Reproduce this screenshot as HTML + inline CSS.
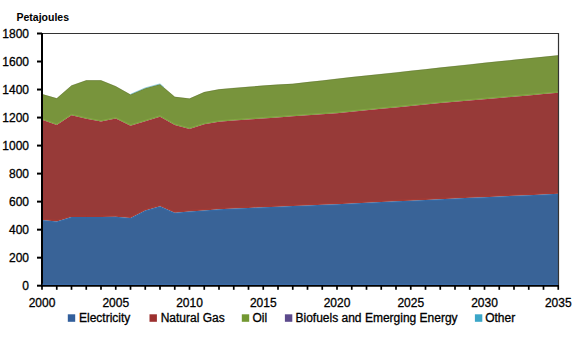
<!DOCTYPE html>
<html><head><meta charset="utf-8"><style>
html,body{margin:0;padding:0;background:#fff;}
body{width:580px;height:337px;overflow:hidden;}
svg{display:block;}
.t{font-family:"Liberation Sans", sans-serif;font-size:12px;fill:#000;stroke:#000;stroke-width:0.3px;}
.b{font-family:"Liberation Sans", sans-serif;font-size:10.5px;font-weight:bold;fill:#000;}
</style></head><body>
<svg width="580" height="337" viewBox="0 0 580 337">
<polygon points="42.00,94.10 56.75,98.30 71.50,85.40 86.25,80.30 101.00,80.30 115.75,86.20 130.50,94.60 145.25,88.20 160.00,84.20 174.75,96.80 189.50,98.50 204.25,92.10 219.00,89.30 233.75,87.90 248.50,86.80 263.25,85.60 278.00,84.60 292.75,83.80 307.50,82.10 322.25,80.50 337.00,78.70 351.75,77.12 366.50,75.54 381.25,73.96 396.00,72.38 410.75,70.80 425.50,69.20 440.25,67.60 455.00,66.00 469.75,64.40 484.50,62.80 499.25,61.30 514.00,59.80 528.75,58.30 543.50,56.80 558.25,55.30 558.25,92.80 543.50,94.09 528.75,95.38 514.00,96.66 499.25,97.95 484.50,99.24 469.75,100.52 455.00,101.81 440.25,103.10 425.50,104.54 410.75,105.99 396.00,107.43 381.25,108.87 366.50,110.31 351.75,111.76 337.00,113.20 322.25,114.25 307.50,115.30 292.75,116.35 278.00,117.40 263.25,118.45 248.50,119.50 233.75,120.60 219.00,121.80 204.25,124.30 189.50,129.00 174.75,125.00 160.00,116.70 145.25,121.30 130.50,125.70 115.75,118.60 101.00,121.60 86.25,118.80 71.50,115.30 56.75,125.00 42.00,119.80" fill="#78943c"/>
<polygon points="42.00,119.80 56.75,125.00 71.50,115.30 86.25,118.80 101.00,121.60 115.75,118.60 130.50,125.70 145.25,121.30 160.00,116.70 174.75,125.00 189.50,129.00 204.25,124.30 219.00,121.80 233.75,120.60 248.50,119.50 263.25,118.45 278.00,117.40 292.75,116.35 307.50,115.30 322.25,114.25 337.00,113.20 351.75,111.76 366.50,110.31 381.25,108.87 396.00,107.43 410.75,105.99 425.50,104.54 440.25,103.10 455.00,101.81 469.75,100.52 484.50,99.24 499.25,97.95 514.00,96.66 528.75,95.38 543.50,94.09 558.25,92.80 558.25,193.80 543.50,194.48 528.75,195.15 514.00,195.82 499.25,196.50 484.50,197.18 469.75,197.85 455.00,198.52 440.25,199.20 425.50,199.91 410.75,200.63 396.00,201.34 381.25,202.06 366.50,202.77 351.75,203.49 337.00,204.20 322.25,204.82 307.50,205.43 292.75,206.05 278.00,206.67 263.25,207.28 248.50,207.90 233.75,208.60 219.00,209.30 204.25,210.40 189.50,211.40 174.75,212.80 160.00,206.30 145.25,210.40 130.50,218.00 115.75,216.70 101.00,216.90 86.25,216.90 71.50,216.90 56.75,221.40 42.00,220.10" fill="#973a38"/>
<polygon points="42.00,220.10 56.75,221.40 71.50,216.90 86.25,216.90 101.00,216.90 115.75,216.70 130.50,218.00 145.25,210.40 160.00,206.30 174.75,212.80 189.50,211.40 204.25,210.40 219.00,209.30 233.75,208.60 248.50,207.90 263.25,207.28 278.00,206.67 292.75,206.05 307.50,205.43 322.25,204.82 337.00,204.20 351.75,203.49 366.50,202.77 381.25,202.06 396.00,201.34 410.75,200.63 425.50,199.91 440.25,199.20 455.00,198.52 469.75,197.85 484.50,197.18 499.25,196.50 514.00,195.82 528.75,195.15 543.50,194.48 558.25,193.80 558.25,285.70 42.00,285.70" fill="#396397"/>
<polyline points="42.00,118.80 56.75,124.00 71.50,114.30 86.25,117.80 101.00,120.60 115.75,117.60 130.50,124.70 145.25,120.30 160.00,115.70 174.75,124.00 189.50,128.00 204.25,123.30 219.00,120.80 233.75,119.60 248.50,118.50 263.25,117.45 278.00,116.40 292.75,115.35 307.50,114.30 322.25,113.25 337.00,112.20 351.75,110.76 366.50,109.31 381.25,107.87 396.00,106.43 410.75,104.99 425.50,103.54 440.25,102.10 455.00,100.81 469.75,99.52 484.50,98.24 499.25,96.95 514.00,95.66 528.75,94.38 543.50,93.09 558.25,91.80" fill="none" stroke="#88b845" stroke-width="1" opacity="0.55"/>
<polyline points="42.00,120.80 56.75,126.00 71.50,116.30 86.25,119.80 101.00,122.60 115.75,119.60 130.50,126.70 145.25,122.30 160.00,117.70 174.75,126.00 189.50,130.00 204.25,125.30 219.00,122.80 233.75,121.60 248.50,120.50 263.25,119.45 278.00,118.40 292.75,117.35 307.50,116.30 322.25,115.25 337.00,114.20 351.75,112.76 366.50,111.31 381.25,109.87 396.00,108.43 410.75,106.99 425.50,105.54 440.25,104.10 455.00,102.81 469.75,101.52 484.50,100.24 499.25,98.95 514.00,97.66 528.75,96.38 543.50,95.09 558.25,93.80" fill="none" stroke="#b02a3a" stroke-width="1" opacity="0.45"/>
<polyline points="42.00,219.10 56.75,220.40 71.50,215.90 86.25,215.90 101.00,215.90 115.75,215.70 130.50,217.00 145.25,209.40 160.00,205.30 174.75,211.80 189.50,210.40 204.25,209.40 219.00,208.30 233.75,207.60 248.50,206.90 263.25,206.28 278.00,205.67 292.75,205.05 307.50,204.43 322.25,203.82 337.00,203.20 351.75,202.49 366.50,201.77 381.25,201.06 396.00,200.34 410.75,199.63 425.50,198.91 440.25,198.20 455.00,197.52 469.75,196.85 484.50,196.18 499.25,195.50 514.00,194.82 528.75,194.15 543.50,193.48 558.25,192.80" fill="none" stroke="#bb3a2e" stroke-width="1" opacity="0.5"/>
<polyline points="42.00,221.10 56.75,222.40 71.50,217.90 86.25,217.90 101.00,217.90 115.75,217.70 130.50,219.00 145.25,211.40 160.00,207.30 174.75,213.80 189.50,212.40 204.25,211.40 219.00,210.30 233.75,209.60 248.50,208.90 263.25,208.28 278.00,207.67 292.75,207.05 307.50,206.43 322.25,205.82 337.00,205.20 351.75,204.49 366.50,203.77 381.25,203.06 396.00,202.34 410.75,201.63 425.50,200.91 440.25,200.20 455.00,199.52 469.75,198.85 484.50,198.18 499.25,197.50 514.00,196.82 528.75,196.15 543.50,195.48 558.25,194.80" fill="none" stroke="#2f72b8" stroke-width="1" opacity="0.5"/>
<polyline points="42.00,94.40 56.75,98.60 71.50,85.70 86.25,80.60 101.00,80.60 115.75,86.50 130.50,94.90 145.25,88.50 160.00,84.50 174.75,97.10 189.50,98.80 204.25,92.40 219.00,89.60 233.75,88.20 248.50,87.10 263.25,85.90 278.00,84.90 292.75,84.10 307.50,82.40 322.25,80.80 337.00,79.00 351.75,77.42 366.50,75.84 381.25,74.26 396.00,72.68 410.75,71.10 425.50,69.50 440.25,67.90 455.00,66.30 469.75,64.70 484.50,63.10 499.25,61.60 514.00,60.10 528.75,58.60 543.50,57.10 558.25,55.60" fill="none" stroke="#4f5a30" stroke-width="0.8" opacity="0.35"/>
<polyline points="130.50,94.30 145.25,87.90 160.00,83.90 164.00,87.32" fill="none" stroke="#4bacc6" stroke-width="0.8" opacity="0.7"/>
<line x1="41" y1="33.5" x2="559" y2="33.5" stroke="#333" stroke-width="1.2"/>
<line x1="558.5" y1="33" x2="558.5" y2="286" stroke="#333" stroke-width="1.2"/>
<line x1="42" y1="33" x2="42" y2="287" stroke="#000" stroke-width="2"/>
<line x1="42" y1="284.2" x2="558" y2="284.2" stroke="#3f78c0" stroke-width="1" opacity="0.5"/>
<line x1="41" y1="285.8" x2="559" y2="285.8" stroke="#000" stroke-width="1.8"/>
<line x1="37" y1="285.70" x2="42" y2="285.70" stroke="#000" stroke-width="2"/>
<text x="29" y="290.20" text-anchor="end" class="t">0</text>
<line x1="37" y1="257.68" x2="42" y2="257.68" stroke="#000" stroke-width="2"/>
<text x="29" y="262.18" text-anchor="end" class="t">200</text>
<line x1="37" y1="229.66" x2="42" y2="229.66" stroke="#000" stroke-width="2"/>
<text x="29" y="234.16" text-anchor="end" class="t">400</text>
<line x1="37" y1="201.63" x2="42" y2="201.63" stroke="#000" stroke-width="2"/>
<text x="29" y="206.13" text-anchor="end" class="t">600</text>
<line x1="37" y1="173.61" x2="42" y2="173.61" stroke="#000" stroke-width="2"/>
<text x="29" y="178.11" text-anchor="end" class="t">800</text>
<line x1="37" y1="145.59" x2="42" y2="145.59" stroke="#000" stroke-width="2"/>
<text x="29" y="150.09" text-anchor="end" class="t">1000</text>
<line x1="37" y1="117.57" x2="42" y2="117.57" stroke="#000" stroke-width="2"/>
<text x="29" y="122.07" text-anchor="end" class="t">1200</text>
<line x1="37" y1="89.54" x2="42" y2="89.54" stroke="#000" stroke-width="2"/>
<text x="29" y="94.04" text-anchor="end" class="t">1400</text>
<line x1="37" y1="61.52" x2="42" y2="61.52" stroke="#000" stroke-width="2"/>
<text x="29" y="66.02" text-anchor="end" class="t">1600</text>
<line x1="37" y1="33.50" x2="42" y2="33.50" stroke="#000" stroke-width="2"/>
<text x="29" y="38.00" text-anchor="end" class="t">1800</text>
<line x1="42.00" y1="286" x2="42.00" y2="289.8" stroke="#000" stroke-width="1.7"/>
<line x1="56.75" y1="286" x2="56.75" y2="289.8" stroke="#000" stroke-width="1.7"/>
<line x1="71.50" y1="286" x2="71.50" y2="289.8" stroke="#000" stroke-width="1.7"/>
<line x1="86.25" y1="286" x2="86.25" y2="289.8" stroke="#000" stroke-width="1.7"/>
<line x1="101.00" y1="286" x2="101.00" y2="289.8" stroke="#000" stroke-width="1.7"/>
<line x1="115.75" y1="286" x2="115.75" y2="289.8" stroke="#000" stroke-width="1.7"/>
<line x1="130.50" y1="286" x2="130.50" y2="289.8" stroke="#000" stroke-width="1.7"/>
<line x1="145.25" y1="286" x2="145.25" y2="289.8" stroke="#000" stroke-width="1.7"/>
<line x1="160.00" y1="286" x2="160.00" y2="289.8" stroke="#000" stroke-width="1.7"/>
<line x1="174.75" y1="286" x2="174.75" y2="289.8" stroke="#000" stroke-width="1.7"/>
<line x1="189.50" y1="286" x2="189.50" y2="289.8" stroke="#000" stroke-width="1.7"/>
<line x1="204.25" y1="286" x2="204.25" y2="289.8" stroke="#000" stroke-width="1.7"/>
<line x1="219.00" y1="286" x2="219.00" y2="289.8" stroke="#000" stroke-width="1.7"/>
<line x1="233.75" y1="286" x2="233.75" y2="289.8" stroke="#000" stroke-width="1.7"/>
<line x1="248.50" y1="286" x2="248.50" y2="289.8" stroke="#000" stroke-width="1.7"/>
<line x1="263.25" y1="286" x2="263.25" y2="289.8" stroke="#000" stroke-width="1.7"/>
<line x1="278.00" y1="286" x2="278.00" y2="289.8" stroke="#000" stroke-width="1.7"/>
<line x1="292.75" y1="286" x2="292.75" y2="289.8" stroke="#000" stroke-width="1.7"/>
<line x1="307.50" y1="286" x2="307.50" y2="289.8" stroke="#000" stroke-width="1.7"/>
<line x1="322.25" y1="286" x2="322.25" y2="289.8" stroke="#000" stroke-width="1.7"/>
<line x1="337.00" y1="286" x2="337.00" y2="289.8" stroke="#000" stroke-width="1.7"/>
<line x1="351.75" y1="286" x2="351.75" y2="289.8" stroke="#000" stroke-width="1.7"/>
<line x1="366.50" y1="286" x2="366.50" y2="289.8" stroke="#000" stroke-width="1.7"/>
<line x1="381.25" y1="286" x2="381.25" y2="289.8" stroke="#000" stroke-width="1.7"/>
<line x1="396.00" y1="286" x2="396.00" y2="289.8" stroke="#000" stroke-width="1.7"/>
<line x1="410.75" y1="286" x2="410.75" y2="289.8" stroke="#000" stroke-width="1.7"/>
<line x1="425.50" y1="286" x2="425.50" y2="289.8" stroke="#000" stroke-width="1.7"/>
<line x1="440.25" y1="286" x2="440.25" y2="289.8" stroke="#000" stroke-width="1.7"/>
<line x1="455.00" y1="286" x2="455.00" y2="289.8" stroke="#000" stroke-width="1.7"/>
<line x1="469.75" y1="286" x2="469.75" y2="289.8" stroke="#000" stroke-width="1.7"/>
<line x1="484.50" y1="286" x2="484.50" y2="289.8" stroke="#000" stroke-width="1.7"/>
<line x1="499.25" y1="286" x2="499.25" y2="289.8" stroke="#000" stroke-width="1.7"/>
<line x1="514.00" y1="286" x2="514.00" y2="289.8" stroke="#000" stroke-width="1.7"/>
<line x1="528.75" y1="286" x2="528.75" y2="289.8" stroke="#000" stroke-width="1.7"/>
<line x1="543.50" y1="286" x2="543.50" y2="289.8" stroke="#000" stroke-width="1.7"/>
<line x1="558.25" y1="286" x2="558.25" y2="289.8" stroke="#000" stroke-width="1.7"/>
<text x="42.00" y="307" text-anchor="middle" class="t">2000</text>
<text x="115.75" y="307" text-anchor="middle" class="t">2005</text>
<text x="189.50" y="307" text-anchor="middle" class="t">2010</text>
<text x="263.25" y="307" text-anchor="middle" class="t">2015</text>
<text x="337.00" y="307" text-anchor="middle" class="t">2020</text>
<text x="410.75" y="307" text-anchor="middle" class="t">2025</text>
<text x="484.50" y="307" text-anchor="middle" class="t">2030</text>
<text x="558.25" y="307" text-anchor="middle" class="t">2035</text>
<text x="16.5" y="20.5" class="b">Petajoules</text>
<rect x="67.8" y="314.3" width="7.4" height="7.5" fill="#325f9c"/>
<text x="79" y="322" class="t">Electricity</text>
<rect x="149.5" y="314.3" width="7.4" height="7.5" fill="#9c302f"/>
<text x="160.7" y="322" class="t">Natural Gas</text>
<rect x="241.8" y="314.3" width="7.4" height="7.5" fill="#739832"/>
<text x="252.5" y="322" class="t">Oil</text>
<rect x="284.9" y="314.3" width="7.4" height="7.5" fill="#5c4a8c"/>
<text x="295.5" y="322" class="t">Biofuels and Emerging Energy</text>
<rect x="474.9" y="314.3" width="7.4" height="7.5" fill="#3ba6c8"/>
<text x="485.2" y="322" class="t">Other</text>
</svg>
</body></html>
